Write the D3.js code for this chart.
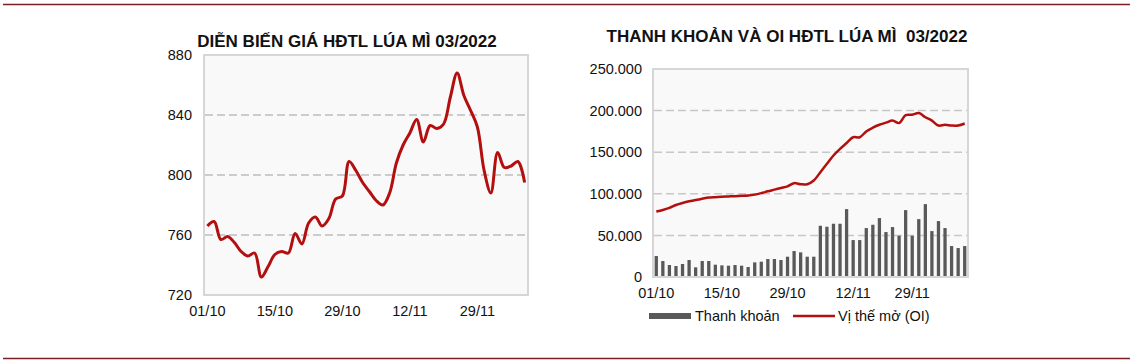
<!DOCTYPE html>
<html>
<head>
<meta charset="utf-8">
<script src="https://cdn.jsdelivr.net/npm/d3@7"></script>
<style>
  body { margin: 0; background: #fff; }
  svg { font-family: Arial, "Liberation Sans", sans-serif; }
</style>
</head>
<body>
<svg id="chart" width="1133" height="364"></svg>
<script>
// trading days, left chart (price)
const priceDates = ["01/10","04/10","05/10","06/10","07/10","08/10","11/10","12/10","13/10","14/10",
  "15/10","18/10","19/10","20/10","21/10","22/10","25/10","26/10","27/10","28/10",
  "29/10","01/11","02/11","03/11","04/11","05/11","08/11","09/11","10/11","11/11",
  "12/11","15/11","16/11","17/11","18/11","19/11","22/11","23/11","24/11","26/11",
  "29/11","30/11","01/12","02/12","03/12","06/12","07/12","08/12"]
const prices = [766,769,757,759,755,749,746,748,732,739,
  747,749,748,761,754,768,772,766,771,784,
  786,809,803,795,789,783,780,788,808,820,
  828,837,822,833,831,834,852,868,853,843,
  832,803,788,815,805,806,809,795]

// trading days, right chart (volume + open interest)
const volDates = ["01/10","04/10","05/10","06/10","07/10","08/10","11/10","12/10","13/10","14/10",
  "15/10","18/10","19/10","20/10","21/10","22/10","25/10","26/10","27/10","28/10",
  "29/10","01/11","02/11","03/11","04/11","05/11","08/11","09/11","10/11","11/11",
  "12/11","15/11","16/11","17/11","18/11","19/11","22/11","23/11","24/11","29/11",
  "30/11","01/12","02/12","03/12","06/12","07/12","08/12","09/12"]
const volume = [25200,19200,14400,13200,15600,20400,11600,19200,19200,14800,
  14000,13600,14400,13600,12000,17600,18400,21600,21600,20400,
  24400,31200,29600,24400,24400,61600,60400,64000,64000,81600,
  44400,44400,58800,62800,70800,54000,60000,49600,80400,49600,
  69600,87600,55200,67200,58800,37200,34800,37200]
const openInterest = [78800,80500,83000,86500,89000,91000,92500,94000,95500,96000,
  96500,96800,97200,97600,98000,99000,100800,103000,105000,107000,
  109000,112800,111500,111500,116000,126000,136000,146000,154000,161000,
  168000,168000,175000,179500,183000,185500,188000,185000,194500,195000,
  197000,192000,188000,182000,183000,182000,182000,184500]

const tickLabels = ["01/10","15/10","29/10","12/11","29/11"]
const priceTicks = [720,760,800,840,880]
const volTicks = [0,50000,100000,150000,200000,250000]

const red = "#b40f0f", barGray = "#595959", frame = "#d6d6d6", grid = "#bdbdbd"
const svg = d3.select("#chart")

// page rules
svg.append("line").attr("x1", 3).attr("x2", 1130).attr("y1", 4.5).attr("y2", 4.5)
  .attr("stroke", "#7a1f24").attr("stroke-width", 1.5)
svg.append("line").attr("x1", 3).attr("x2", 1130).attr("y1", 358.5).attr("y2", 358.5)
  .attr("stroke", "#7a1f24").attr("stroke-width", 1.5)

function panel(box) {
  const g = svg.append("g").attr("transform", `translate(${box.left},${box.top})`)
  g.append("rect").attr("width", box.w).attr("height", box.h)
    .attr("fill", "#f9f9f9").attr("stroke", frame).attr("stroke-width", 2)
  return g
}

// ---------- left: price ----------
const L = {left: 204, top: 55, w: 324, h: 240}
const gl = panel(L)
const xl = d3.scaleBand().domain(priceDates).range([0, L.w])
const yl = d3.scaleLinear().domain([720, 880]).range([L.h, 0])

gl.selectAll("line.grid").data(priceTicks.filter(t => t > 720 && t < 880))
  .enter().append("line").attr("class", "grid")
  .attr("x1", 1).attr("x2", L.w - 1).attr("y1", d => yl(d)).attr("y2", d => yl(d))
  .attr("stroke", grid).attr("stroke-width", 1.5).attr("stroke-dasharray", "8,4")

gl.append("path").datum(prices)
  .attr("fill", "none").attr("stroke", red).attr("stroke-width", 3).attr("stroke-linejoin", "round")
  .attr("d", d3.line().x((d, i) => xl(priceDates[i]) + xl.bandwidth() / 2).y(d => yl(d)).curve(d3.curveCatmullRom))

const axl = gl.append("g").call(d3.axisLeft(yl).tickValues(priceTicks).tickSize(0).tickPadding(12))
const axlb = gl.append("g").attr("transform", `translate(0,${L.h})`)
  .call(d3.axisBottom(xl).tickValues(priceDates.filter(d => tickLabels.includes(d))).tickSize(0).tickPadding(11))
;[axl, axlb].forEach(a => {
  a.select(".domain").remove()
  a.selectAll("text").attr("font-size", 14.5).attr("fill", "#111").attr("font-family", "Arial, 'Liberation Sans', sans-serif")
})

svg.append("text").attr("x", 347).attr("y", 47).attr("text-anchor", "middle")
  .attr("font-size", 17).attr("font-weight", "bold").attr("fill", "#111")
  .text("DIỄN BIẾN GIÁ HĐTL LÚA MÌ 03/2022")

// ---------- right: volume + OI ----------
const R = {left: 653, top: 69, w: 315, h: 208}
const gr = panel(R)
const xr = d3.scaleBand().domain(volDates).range([0, R.w]).paddingInner(0.5).paddingOuter(0.25)
const yr = d3.scaleLinear().domain([0, 250000]).range([R.h, 0])

gr.selectAll("line.grid").data(volTicks.filter(t => t > 0 && t < 250000))
  .enter().append("line").attr("class", "grid")
  .attr("x1", 1).attr("x2", R.w - 1).attr("y1", d => yr(d)).attr("y2", d => yr(d))
  .attr("stroke", "#c8c8c8").attr("stroke-width", 1.5).attr("stroke-dasharray", "8,4")

gr.selectAll("rect.bar").data(volume).enter().append("rect").attr("class", "bar")
  .attr("x", (d, i) => xr(volDates[i])).attr("width", xr.bandwidth())
  .attr("y", d => yr(d)).attr("height", d => yr(0) - yr(d) - 1)
  .attr("fill", barGray)

gr.append("path").datum(openInterest)
  .attr("fill", "none").attr("stroke", red).attr("stroke-width", 2.5).attr("stroke-linejoin", "round")
  .attr("d", d3.line().x((d, i) => xr(volDates[i]) + xr.bandwidth() / 2).y(d => yr(d)).curve(d3.curveCatmullRom))

const fmt = v => d3.format(",")(v).replace(/,/g, ".")
const axr = gr.append("g").call(d3.axisLeft(yr).tickValues(volTicks).tickFormat(fmt).tickSize(0).tickPadding(11))
const axrb = gr.append("g").attr("transform", `translate(0,${R.h})`)
  .call(d3.axisBottom(xr).tickValues(volDates.filter(d => tickLabels.includes(d))).tickSize(0).tickPadding(11))
;[axr, axrb].forEach(a => {
  a.select(".domain").remove()
  a.selectAll("text").attr("font-size", 14.5).attr("fill", "#111").attr("font-family", "Arial, 'Liberation Sans', sans-serif")
})

svg.append("text").attr("x", 787).attr("y", 42).attr("text-anchor", "middle")
  .attr("font-size", 17).attr("font-weight", "bold").attr("fill", "#111")
  .text("THANH KHOẢN VÀ OI HĐTL LÚA MÌ  03/2022").style("white-space", "pre")

// legend
const lg = svg.append("g").attr("font-size", 14.5).attr("fill", "#111")
lg.append("rect").attr("x", 649).attr("y", 313).attr("width", 42).attr("height", 6).attr("fill", barGray)
lg.append("text").attr("x", 695).attr("y", 321).text("Thanh khoản")
lg.append("line").attr("x1", 793).attr("x2", 835).attr("y1", 316).attr("y2", 316)
  .attr("stroke", red).attr("stroke-width", 2.5)
lg.append("text").attr("x", 838).attr("y", 321).text("Vị thế mở (OI)")
</script>
</body>
</html>
